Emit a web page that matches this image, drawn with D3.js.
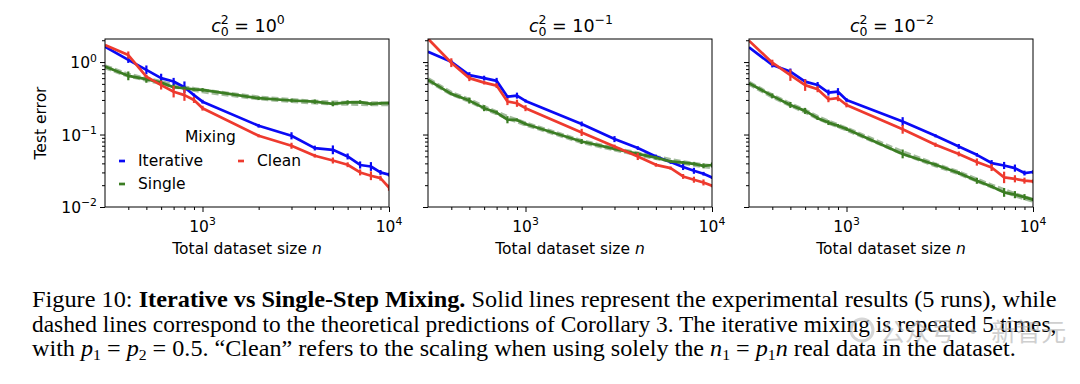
<!DOCTYPE html>
<html lang="en">
<head>
<meta charset="UTF-8" />
<title>Iterative vs Single-Step Mixing</title>
<script src="https://d3js.org/d3.v7.min.js"></script>
<style>
  body { margin: 0; background: #fff; }
  svg { display: block; font-family: "DejaVu Sans", sans-serif; }
  .tick line { stroke: #000; }
</style>
</head>
<body>
<svg id="fig" width="1080" height="384"></svg>
<script>
  // data (total dataset size n vs test error)

  const sizes = [300, 400, 500, 600, 700, 800, 900, 1000, 2000, 3000, 4000, 5000, 6000, 7000, 8000, 9000, 10000];
  const panelExp = ["0", "\u22121", "\u22122"];

  const iterative = [
    [1.63, 1.07, 0.78, 0.60, 0.54, 0.45, 0.35, 0.284, 0.132, 0.096, 0.065, 0.0615, 0.0498, 0.038, 0.0362, 0.030, 0.0279],
    [1.39, 1.01, 0.66, 0.60, 0.55, 0.333, 0.344, 0.291, 0.140, 0.0865, 0.065, 0.0498, 0.0417, 0.0356, 0.0316, 0.0288, 0.0256],
    [1.60, 0.91, 0.74, 0.537, 0.483, 0.379, 0.39, 0.30, 0.151, 0.096, 0.0685, 0.0525, 0.0404, 0.0374, 0.0344, 0.0294, 0.0304]
  ];
  const clean = [
    [1.72, 1.25, 0.63, 0.48, 0.39, 0.35, 0.30, 0.231, 0.096, 0.070, 0.051, 0.0438, 0.0383, 0.030, 0.027, 0.025, 0.0185],
    [2.10, 0.98, 0.60, 0.52, 0.473, 0.285, 0.27, 0.231, 0.107, 0.0684, 0.0498, 0.0382, 0.0344, 0.0264, 0.0238, 0.0218, 0.0196],
    [1.97, 0.98, 0.66, 0.48, 0.422, 0.307, 0.317, 0.256, 0.118, 0.0721, 0.054, 0.0417, 0.0351, 0.0256, 0.0245, 0.0231, 0.0226]
  ];
  const single = [
    [0.865, 0.645, 0.58, 0.52, 0.45, 0.435, 0.42, 0.413, 0.317, 0.295, 0.284, 0.265, 0.277, 0.28, 0.265, 0.27, 0.272],
    [0.567, 0.364, 0.294, 0.231, 0.201, 0.16, 0.159, 0.140, 0.080, 0.0635, 0.054, 0.048, 0.0425, 0.041, 0.0394, 0.037, 0.038],
    [0.51, 0.341, 0.256, 0.212, 0.168, 0.146, 0.132, 0.119, 0.054, 0.0382, 0.0294, 0.023, 0.0192, 0.0159, 0.0148, 0.0137, 0.0126]
  ];
  // theoretical curve for single-step mixing (dashed)
  const singleTheory = [
    [0.86, 0.66, 0.58, 0.52, 0.47, 0.44, 0.42, 0.40, 0.32, 0.295, 0.28, 0.272, 0.27, 0.268, 0.265, 0.265, 0.265],
    [0.57, 0.37, 0.295, 0.235, 0.20, 0.172, 0.155, 0.14, 0.08, 0.063, 0.054, 0.048, 0.044, 0.041, 0.039, 0.037, 0.036],
    [0.51, 0.34, 0.258, 0.21, 0.172, 0.148, 0.132, 0.119, 0.056, 0.038, 0.0295, 0.0235, 0.0195, 0.0168, 0.0148, 0.0134, 0.0124]
  ];

  // relative half-size of the error bars
  const iterativeErr = [
    [0, 0.1, 0.15, 0.15, 0.12, 0.2, 0.05, 0.06, 0.06, 0.12, 0.08, 0.15, 0.1, 0.12, 0.15, 0.08, 0.06],
    [0, 0.06, 0.1, 0.08, 0.1, 0.05, 0.1, 0.05, 0.08, 0.1, 0.06, 0.06, 0.06, 0.1, 0.1, 0.06, 0.05],
    [0, 0.08, 0.1, 0.08, 0.1, 0.1, 0.12, 0.06, 0.15, 0.05, 0.08, 0.06, 0.1, 0.12, 0.12, 0.08, 0.06]
  ];
  const cleanErr = [
    [0, 0.12, 0.05, 0.15, 0.2, 0.2, 0.1, 0.08, 0.05, 0.1, 0.06, 0.1, 0.08, 0.1, 0.15, 0.08, 0.1],
    [0, 0.15, 0.1, 0.06, 0.08, 0.12, 0.12, 0.1, 0.12, 0.06, 0.12, 0.06, 0.05, 0.08, 0.1, 0.1, 0.05],
    [0, 0.1, 0.2, 0.2, 0.1, 0.1, 0.1, 0.08, 0.15, 0.07, 0.08, 0.12, 0.12, 0.2, 0.12, 0.1, 0.06]
  ];
  const singleErr = [
    [0, 0.15, 0.12, 0.08, 0.08, 0.06, 0.04, 0.06, 0.06, 0.06, 0.07, 0.08, 0.07, 0.06, 0.05, 0.05, 0.04],
    [0, 0.04, 0.1, 0.1, 0.06, 0.12, 0.05, 0.05, 0.08, 0.05, 0.05, 0.06, 0.05, 0.05, 0.05, 0.08, 0.08],
    [0, 0.08, 0.1, 0.1, 0.06, 0.08, 0.06, 0.06, 0.15, 0.05, 0.06, 0.1, 0.05, 0.15, 0.12, 0.1, 0.05]
  ];

  const yMajor = [0.01, 0.1, 1];
  const yMajorExp = ["\u22122", "\u22121", "0"];
  const xMajor = [1000, 10000];
  const xMajorExp = ["3", "4"];
  const yMinor = [0.02, 0.03, 0.04, 0.05, 0.06, 0.07, 0.08, 0.09, 0.2, 0.3, 0.4, 0.5, 0.6, 0.7, 0.8, 0.9, 2];
  const xMinor = [400, 500, 600, 700, 800, 900, 2000, 3000, 4000, 5000, 6000, 7000, 8000, 9000];

  const colors = { Iterative: "#0a0af5", Single: "#3b7d23", Clean: "#ee3a2e" };

  // layout
  const panelLeft = [105, 428, 749];
  const panelTop = 39, panelW = 284, panelH = 168;

  const svg = d3.select("#fig");
  svg.append("rect").attr("width", 1080).attr("height", 384).attr("fill", "#fff");

  function supLabel(sel, base, exp, size) {
    sel.append("tspan").text(base);
    sel.append("tspan").text(exp).attr("font-size", size * 0.7).attr("dy", -size * 0.42);
  }

  panelExp.forEach((exp, i) => {
    const g = svg.append("g").attr("transform", "translate(" + panelLeft[i] + "," + panelTop + ")");

    const x = d3.scaleLog().domain([300, 10000]).range([0, panelW]);
    const y = d3.scaleLog().domain([0.01, 2.08]).range([panelH, 0]);

    g.append("clipPath").attr("id", "clip" + i)
      .append("rect").attr("width", panelW).attr("height", panelH);

    // ticks
    const xAxisMinor = g.append("g").attr("transform", "translate(0," + panelH + ")")
      .call(d3.axisBottom(x).tickValues(xMinor).tickSize(3).tickFormat(""));
    const xAxisMajor = g.append("g").attr("transform", "translate(0," + panelH + ")")
      .call(d3.axisBottom(x).tickValues(xMajor).tickSize(5).tickFormat(""));
    const yAxisMinor = g.append("g").call(d3.axisLeft(y).tickValues(yMinor).tickSize(3).tickFormat(""));
    const yAxisMajor = g.append("g").call(d3.axisLeft(y).tickValues(yMajor).tickSize(5).tickFormat(""));
    [xAxisMinor, xAxisMajor, yAxisMinor, yAxisMajor].forEach(a => a.select(".domain").remove());

    xMajor.forEach((v, k) => {
      const t = g.append("text").attr("x", x(v)).attr("y", panelH + 25)
        .attr("text-anchor", "middle").attr("font-size", 15.5);
      supLabel(t, "10", xMajorExp[k], 15.5);
    });
    if (i === 0) {
      yMajor.forEach((v, k) => {
        const t = g.append("text").attr("x", -8).attr("y", y(v) + 6)
          .attr("text-anchor", "end").attr("font-size", 15.5);
        supLabel(t, "10", yMajorExp[k], 15.5);
      });
      g.append("text").attr("transform", "translate(-59," + (panelH / 2) + ") rotate(-90)")
        .attr("text-anchor", "middle").attr("font-size", 15.5).text("Test error");
    }

    // x label
    const xl = g.append("text").attr("x", panelW / 2).attr("y", panelH + 47)
      .attr("text-anchor", "middle").attr("font-size", 15.5);
    xl.append("tspan").text("Total dataset size ");
    xl.append("tspan").attr("font-style", "italic").text("n");

    // title  c_0^2 = 10^exp
    const tt = g.append("text").attr("x", panelW / 2 + 1).attr("y", -7)
      .attr("text-anchor", "middle").attr("font-size", 17.5);
    tt.append("tspan").attr("font-style", "italic").text("c");
    tt.append("tspan").attr("font-size", 12.5).attr("dy", -8).text("2");
    tt.append("tspan").attr("font-size", 12.5).attr("dx", -8).attr("dy", 12).text("0");
    tt.append("tspan").attr("dy", -4).text(" = 10");
    tt.append("tspan").attr("font-size", 12.5).attr("dy", -8).text(exp);

    const plot = g.append("g").attr("clip-path", "url(#clip" + i + ")");
    const line = d3.line().x(d => x(d[0])).y(d => y(d[1]));

    // theoretical prediction (dashed)
    plot.append("path")
      .datum(sizes.map((s, k) => [s, singleTheory[i][k]]))
      .attr("d", line).attr("fill", "none")
      .attr("stroke", "#93b08c").attr("stroke-width", 5)
      .attr("stroke-dasharray", "7,3").attr("opacity", 0.85);

    const series = [
      { name: "Iterative", values: iterative[i], err: iterativeErr[i] },
      { name: "Single", values: single[i], err: singleErr[i] },
      { name: "Clean", values: clean[i], err: cleanErr[i] }
    ];

    series.forEach(s => {
      const data = sizes.map((n, k) => [n, s.values[k], s.err[k]]);
      plot.append("path").datum(data)
        .attr("d", line).attr("fill", "none")
        .attr("stroke", colors[s.name]).attr("stroke-width", 2.7)
        .attr("stroke-linejoin", "round");
      plot.selectAll(null).data(data.filter(d => d[2] > 0)).enter().append("line")
        .attr("x1", d => x(d[0])).attr("x2", d => x(d[0]))
        .attr("y1", d => y(d[1] * (1 + d[2]))).attr("y2", d => y(d[1] / (1 + d[2])))
        .attr("stroke", colors[s.name]).attr("stroke-width", 2.2);
    });

    // frame
    g.append("rect").attr("width", panelW).attr("height", panelH)
      .attr("fill", "none").attr("stroke", "#000").attr("stroke-width", 1);

    // legend in first panel
    if (i === 0) {
      const lg = g.append("g").attr("font-size", 15.5);
      lg.append("text").attr("x", 80).attr("y", 103).text("Mixing");
      const entries = [
        { name: "Iterative", x: 14, y: 127 },
        { name: "Single", x: 14, y: 150 },
        { name: "Clean", x: 133, y: 127 }
      ];
      entries.forEach(e => {
        lg.append("line").attr("x1", e.x).attr("x2", e.x + 6)
          .attr("y1", e.y - 5).attr("y2", e.y - 5)
          .attr("stroke", colors[e.name]).attr("stroke-width", 2.7);
        lg.append("text").attr("x", e.x + 19).attr("y", e.y).text(e.name);
      });
    }
  });

  // caption
  const capLeft = 32, capRight = 1057;
  const captionLines = [
    { y: 307, width: capRight - capLeft, parts: [
      { t: "Figure 10: " },
      { t: "Iterative vs Single-Step Mixing.", b: true },
      { t: " Solid lines represent the experimental results (5 runs), while" }
    ] },
    { y: 332, width: capRight - capLeft, parts: [
      { t: "dashed lines correspond to the theoretical predictions of Corollary 3. The iterative mixing is repeated 5 times," }
    ] },
    { y: 356, width: (capRight - capLeft) * 0.96, parts: [
      { t: "with " }, { t: "p", it: true }, { t: "1", sub: true }, { t: " = " },
      { t: "p", it: true }, { t: "2", sub: true },
      { t: " = 0.5. \u201cClean\u201d refers to the scaling when using solely the " },
      { t: "n", it: true }, { t: "1", sub: true }, { t: " = " },
      { t: "p", it: true }, { t: "1", sub: true }, { t: "n", it: true },
      { t: " real data in the dataset." }
    ] }
  ];

  captionLines.forEach(l => {
    const t = svg.append("text")
      .style("font-family", "'Liberation Serif', 'Times New Roman', Times, serif")
      .style("font-size", "23px")
      .attr("x", 0).attr("y", 0);
    let shifted = false;
    l.parts.forEach(p => {
      const ts = t.append("tspan").text(p.t);
      if (p.b) ts.attr("font-weight", "bold");
      if (p.it) ts.attr("font-style", "italic");
      if (p.sub) { ts.style("font-size", "15px").attr("dy", 4); shifted = true; }
      else if (shifted) { ts.attr("dy", -4); shifted = false; }
    });
    const natural = t.node().getComputedTextLength();
    t.attr("transform", "translate(" + capLeft + "," + l.y + ") scale(" + (l.width / natural) + ",1)");
  });

  // watermark
  const wm = svg.append("g").attr("opacity", 0.55);
  wm.append("circle").attr("cx", 862).attr("cy", 330).attr("r", 11)
    .attr("fill", "none").attr("stroke", "#b5b5b5").attr("stroke-width", 3);
  wm.append("text").attr("x", 880).attr("y", 341).attr("font-size", 25)
    .attr("font-family", "Noto Sans CJK SC").attr("fill", "#a8a8a8")
    .text("\u516c\u4f17\u53f7 \u00b7 \u65b0\u667a\u5143");
</script>
</body>
</html>
